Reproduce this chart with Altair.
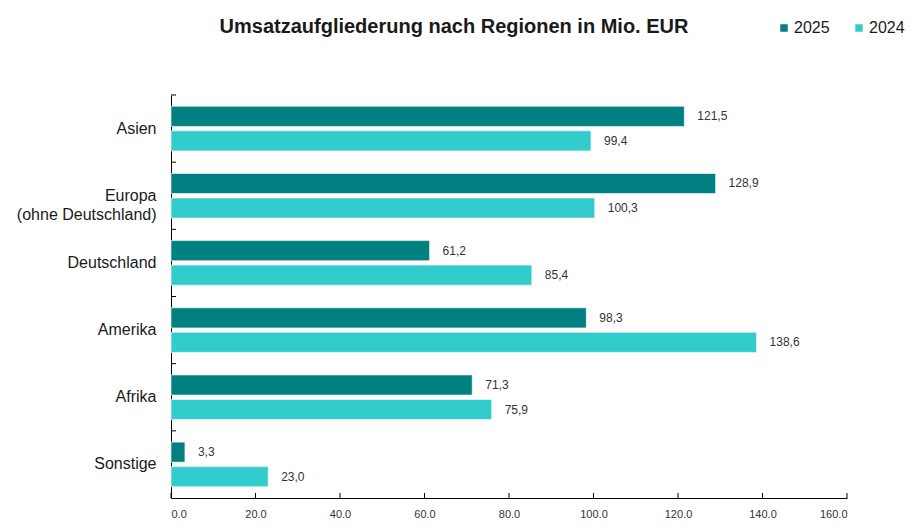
import altair as alt
import pandas as pd

regions = ["Asien", "Europa (ohne Deutschland)", "Deutschland", "Amerika", "Afrika", "Sonstige"]
years = ["2025", "2024"]
values_2025 = [121.5, 128.9, 61.2, 98.3, 71.3, 3.3]
values_2024 = [99.4, 100.3, 85.4, 138.6, 75.9, 23.0]
x_ticks = [0, 20, 40, 60, 80, 100, 120, 140, 160]
colors = ["#008080", "#33CCCC"]

rows = []
for r, a, b in zip(regions, values_2025, values_2024):
    rows.append({"region": r, "year": "2025", "value": a})
    rows.append({"region": r, "year": "2024", "value": b})
df = pd.DataFrame(rows)
ticks_df = pd.DataFrame({"t": x_ticks})
reg_df = pd.DataFrame({"region": regions})

W, H = 676, 403
NB = "\u00a0" * 10

x_scale = alt.Scale(domain=[0, 160], nice=False, zero=True)
x_axis = alt.Axis(values=x_ticks, ticks=False, grid=False, title=None,
                  labelExpr="format(datum.value, 'd') + ',0'",
                  labelFont="Liberation Sans", labelFontSize=11, labelColor="#333333",
                  labelPadding=10, domainColor="#000000", domainWidth=1)
y_axis = alt.Axis(ticks=False, grid=False, title=None,
                  labelExpr="datum.value == 'Europa (ohne Deutschland)' ? ['Europa" + NB + "', '(ohne Deutschland)'] : datum.value",
                  labelFont="Liberation Sans", labelFontSize=16, labelColor="#1a1a1a",
                  labelPadding=15, labelLineHeight=19, domainColor="#000000", domainWidth=1)
y_scale = alt.Scale(paddingInner=0, paddingOuter=0)
yoff_scale = alt.Scale(paddingInner=0.18, paddingOuter=0.46)

base = alt.Chart(df).encode(
    y=alt.Y("region:N", sort=regions, scale=y_scale, axis=y_axis),
    yOffset=alt.YOffset("year:N", sort=years, scale=yoff_scale),
)

bars = base.mark_bar(stroke="#ffffff", strokeWidth=0.6).encode(
    x=alt.X("value:Q", scale=x_scale, axis=x_axis),
    color=alt.Color("year:N", sort=years,
                    scale=alt.Scale(domain=years, range=colors),
                    legend=alt.Legend(title=None, orient="none", legendX=605, legendY=-75,
                                      direction="horizontal", symbolType="square",
                                      symbolSize=56, symbolStrokeWidth=0,
                                      labelFont="Liberation Sans", labelFontSize=16,
                                      labelColor="#1a1a1a", labelOffset=2,
                                      columnPadding=21)),
)

labels = base.transform_calculate(
    lab="replace(format(datum.value, '.1f'), '.', ',')"
).mark_text(align="left", baseline="middle", dx=13, font="Liberation Sans",
            fontSize=12, color="#333333").encode(
    x=alt.X("value:Q", scale=x_scale, axis=x_axis),
    text="lab:N",
)

xt = alt.Chart(ticks_df).mark_rule(color="#000000", strokeWidth=1).encode(
    x=alt.X("t:Q", scale=x_scale, axis=x_axis),
    y=alt.value(H - 5),
    y2=alt.value(H),
)

yt = alt.Chart(reg_df).mark_rule(color="#000000", strokeWidth=1).encode(
    y=alt.Y("region:N", sort=regions, scale=y_scale, axis=y_axis, bandPosition=0),
    x=alt.value(0),
    x2=alt.value(5),
)

chart = alt.layer(bars, labels, xt, yt).properties(
    width=W,
    height=H,
    title=alt.TitleParams("Umsatzaufgliederung nach Regionen in Mio. EUR",
                          font="Liberation Sans", fontSize=20, fontWeight="bold",
                          color="#1a1a1a", anchor="middle", dx=-55, offset=0,
                          baseline="bottom", dy=37),
    autosize=alt.AutoSizeParams(type="none"),
    padding={"left": 163, "top": 87, "right": 64, "bottom": 20},
).configure(background="#ffffff").configure_view(stroke="transparent", strokeWidth=0)

chart.save("out.html", embed_options={"renderer": "svg", "actions": False})
